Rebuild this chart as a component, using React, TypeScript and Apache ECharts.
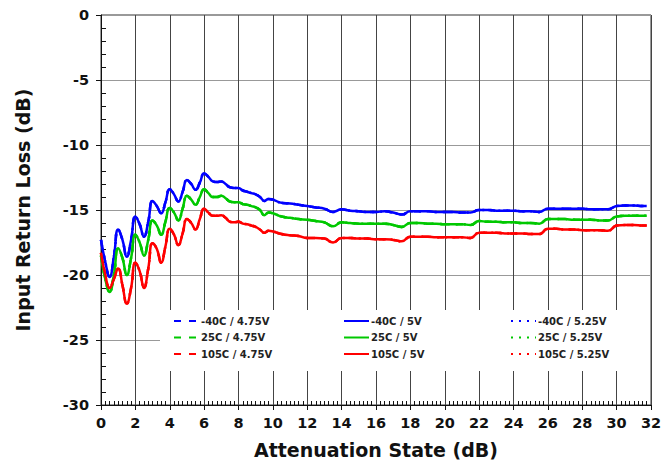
import React, { useEffect, useRef } from "react";
import * as echarts from "echarts";

const X_VALUES = [
  0, 0.25, 0.5, 0.75, 1, 1.25, 1.5, 1.75, 2, 2.25, 2.5, 2.75, 3, 3.25, 3.5, 3.75,
  4, 4.25, 4.5, 4.75, 5, 5.25, 5.5, 5.75, 6, 6.25, 6.5, 6.75, 7, 7.25, 7.5, 7.75,
  8, 8.25, 8.5, 8.75, 9, 9.25, 9.5, 9.75, 10,
  10.5, 11, 11.5, 12, 12.5, 13, 13.5, 14, 14.5, 15, 15.5, 16, 16.5, 17, 17.5,
  18, 18.5, 19, 19.5, 20, 20.5, 21, 21.5, 22, 22.5, 23, 23.5, 24, 24.5, 25, 25.5,
  26, 26.5, 27, 27.5, 28, 28.5, 29, 29.5, 30, 30.5, 31, 31.5, 31.75,
];

const RL_M40C = [
  -17.3, -19.0, -20.15, -18.6, -16.5, -17.3, -18.6, -17.3, -15.5, -16.1, -17.05, -15.9,
  -14.3, -14.7, -15.25, -14.4, -13.4, -13.8, -14.35, -13.6, -12.7, -13.0, -13.45, -12.9,
  -12.2, -12.45, -12.8, -12.85, -12.8, -13.0, -13.25, -13.3, -13.3, -13.5, -13.6, -13.7,
  -13.8, -14.0, -14.3, -14.15, -14.2,
  -14.45, -14.5, -14.6, -14.7, -14.8, -14.9, -15.15, -14.95, -15.05, -15.1, -15.15,
  -15.15, -15.1, -15.2, -15.35, -15.1, -15.1, -15.1, -15.15, -15.15, -15.15, -15.2,
  -15.2, -15.0, -15.0, -15.05, -15.05, -15.05, -15.1, -15.1, -15.15, -14.9, -14.9,
  -14.9, -14.9, -14.9, -14.95, -14.95, -14.95, -14.7, -14.65, -14.65, -14.7, -14.7,
];

const RL_25C = [
  -18.5, -20.3, -21.3, -20.0, -17.95, -18.7, -20.0, -18.7, -16.9, -17.5, -18.5, -17.3,
  -15.8, -16.2, -16.9, -15.9, -14.85, -15.2, -15.8, -14.9, -13.9, -14.2, -14.6, -14.0,
  -13.4, -13.7, -14.0, -14.0, -13.9, -14.1, -14.35, -14.4, -14.4, -14.55, -14.6, -14.7,
  -14.8, -15.0, -15.4, -15.2, -15.25,
  -15.5, -15.6, -15.7, -15.75, -15.85, -15.95, -16.25, -15.95, -16.0, -16.05, -16.05,
  -16.05, -16.05, -16.15, -16.3, -16.0, -16.0, -16.05, -16.05, -16.1, -16.1, -16.1,
  -16.15, -15.85, -15.9, -15.9, -15.95, -15.95, -16.0, -16.0, -16.05, -15.7, -15.7,
  -15.7, -15.75, -15.75, -15.75, -15.8, -15.8, -15.5, -15.45, -15.45, -15.45, -15.45,
];

const RL_105C = [
  -18.3, -20.0, -21.0, -20.3, -19.5, -20.8, -22.2, -21.0, -19.05, -19.7, -21.0, -19.5,
  -17.55, -18.0, -19.05, -17.8, -16.45, -16.9, -17.7, -16.8, -15.7, -16.0, -16.5, -15.7,
  -14.9, -15.2, -15.45, -15.45, -15.4, -15.6, -15.9, -15.95, -15.9, -16.05, -16.1, -16.2,
  -16.3, -16.5, -16.75, -16.6, -16.65,
  -16.85, -16.95, -17.0, -17.15, -17.15, -17.2, -17.5, -17.15, -17.15, -17.2, -17.2,
  -17.25, -17.25, -17.3, -17.4, -17.05, -17.05, -17.05, -17.1, -17.1, -17.1, -17.1,
  -17.15, -16.75, -16.75, -16.75, -16.8, -16.8, -16.8, -16.85, -16.85, -16.45, -16.45,
  -16.5, -16.5, -16.55, -16.55, -16.55, -16.6, -16.2, -16.15, -16.15, -16.2, -16.2,
];

const TEMPS = ["-40C", "25C", "105C"];
const VOLTAGES = ["4.75V", "5V", "5.25V"];
const TEMP_COLORS = ["#0000ff", "#00c800", "#ff0000"];
const TEMP_DATA = [RL_M40C, RL_25C, RL_105C];
const VOLT_LINE_TYPES: any[] = [[7, 8], "solid", [2, 6]];

const X_MIN = 0;
const X_MAX = 32;
const X_INTERVAL = 2;
const Y_MIN = -30;
const Y_MAX = 0;
const Y_INTERVAL = 5;

const FONT = "DejaVu Sans";

function zip(xs: number[], ys: number[]) {
  const n = Math.min(xs.length, ys.length);
  const out: number[][] = [];
  for (let i = 0; i < n; i++) out.push([xs[i], ys[i]]);
  return out;
}

export default function App() {
  const ref = useRef<HTMLDivElement>(null);

  useEffect(() => {
    document.body.style.margin = "0";
    if (!ref.current) return;
    const chart = echarts.init(ref.current, null, { renderer: "svg" });

    const series: any[] = [];
    VOLTAGES.forEach((v, vi) => {
      TEMPS.forEach((t, ti) => {
        series.push({
          name: `${t} / ${v}`,
          type: "line",
          xAxisIndex: 0,
          yAxisIndex: 0,
          data: zip(X_VALUES, TEMP_DATA[ti]),
          showSymbol: false,
          symbol: "none",
          smooth: 0.5,
          lineStyle: { color: TEMP_COLORS[ti], width: 2.5, type: VOLT_LINE_TYPES[vi] },
          itemStyle: { color: TEMP_COLORS[ti] },
          z: vi === 1 ? 3 : 2,
        });
      });
    });

    const legendCommon = {
      orient: "vertical",
      top: 316,
      itemWidth: 25,
      itemHeight: 12,
      itemGap: 6.5,
      padding: 0,
      itemStyle: { opacity: 0, borderWidth: 0 },
      lineStyle: { width: 2 },
      textStyle: { fontFamily: FONT, fontWeight: "bold", fontSize: 10, color: "#222", padding: [0, 0, 0, -3] },
    };

    const option: any = {
      animation: false,
      backgroundColor: "#ffffff",
      grid: {
        left: 101,
        top: 15,
        right: 14,
        bottom: 63,
        show: true,
        borderColor: "#333",
        borderWidth: 1,
        backgroundColor: "transparent",
      },
      legend: VOLTAGES.map((v, vi) => ({
        ...legendCommon,
        left: [173, 343, 510][vi],
        data: TEMPS.map((t) => `${t} / ${v}`),
      })),
      graphic: [
        {
          type: "rect",
          z: 3,
          shape: { x: 160, y: 310, width: 490, height: 61 },
          style: { fill: "#ffffff" },
        },
      ],
      xAxis: [
        {
          type: "value",
          min: X_MIN,
          max: X_MAX,
          interval: X_INTERVAL,
          position: "bottom",
          name: "Attenuation State (dB)",
          nameLocation: "middle",
          nameGap: 35,
          nameTextStyle: { fontFamily: FONT, fontWeight: "bold", fontSize: 19, color: "#111" },
          axisLine: { show: true, onZero: false, lineStyle: { color: "#111", width: 1 } },
          axisTick: { show: true, inside: false, length: 5, lineStyle: { color: "#111" } },
          axisLabel: { fontFamily: FONT, fontWeight: "bold", fontSize: 14.5, color: "#111", margin: 10 },
          splitLine: { show: true, lineStyle: { color: "#444", width: 1 } },
        },
        {
          type: "value",
          min: X_MIN,
          max: X_MAX,
          interval: X_INTERVAL,
          position: "bottom",
          axisLine: { show: false, onZero: false },
          axisTick: { show: false, inside: true },
          axisLabel: { show: false },
          splitLine: { show: false },
          minorTick: { show: true, splitNumber: 8, length: 4, lineStyle: { color: "#111" } },
        },
      ],
      yAxis: [
        {
          type: "value",
          min: Y_MIN,
          max: Y_MAX,
          interval: Y_INTERVAL,
          position: "left",
          name: "Input Return Loss (dB)",
          nameLocation: "middle",
          nameGap: 69,
          nameTextStyle: { fontFamily: FONT, fontWeight: "bold", fontSize: 19, color: "#111" },
          axisLine: { show: true, onZero: false, lineStyle: { color: "#111", width: 1 } },
          axisTick: { show: true, inside: false, length: 5, lineStyle: { color: "#111" } },
          axisLabel: { fontFamily: FONT, fontWeight: "bold", fontSize: 14.5, color: "#111", margin: 12 },
          splitLine: { show: true, lineStyle: { color: "#999", width: 1 } },
        },
        {
          type: "value",
          min: Y_MIN,
          max: Y_MAX,
          interval: Y_INTERVAL,
          position: "left",
          axisLine: { show: false, onZero: false },
          axisTick: { show: false, inside: true },
          axisLabel: { show: false },
          splitLine: { show: false },
          minorTick: { show: true, splitNumber: 5, length: 5, lineStyle: { color: "#111" } },
        },
      ],
      series,
    };

    chart.setOption(option);
    return () => chart.dispose();
  }, []);

  return <div ref={ref} style={{ width: 665, height: 468 }} />;
}
